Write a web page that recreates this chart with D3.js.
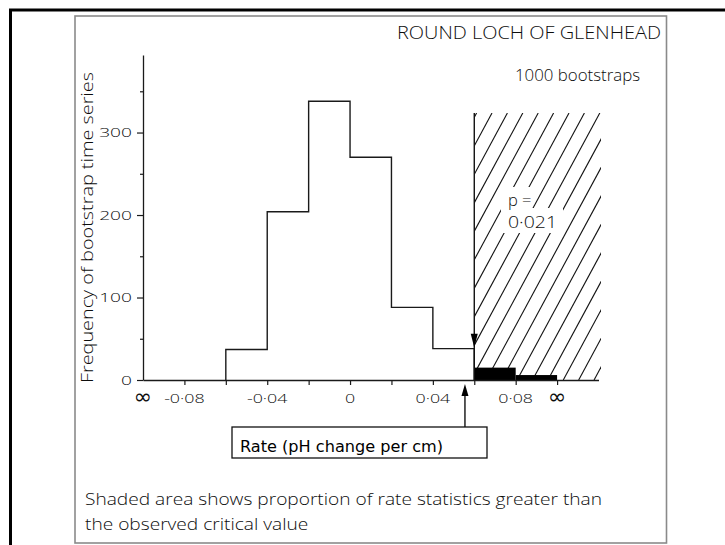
<!DOCTYPE html>
<html>
<head>
<meta charset="utf-8">
<script src="https://cdn.jsdelivr.net/npm/d3@7"></script>
<style>
  html, body { margin: 0; padding: 0; background: #fff; }
  svg { display: block; }
  text { font-weight: 300; fill: #0d0d0d; }
</style>
</head>
<body>
<svg id="chart" width="725" height="545"></svg>
<script>
// Bootstrap distribution of the rate statistic (pH change per cm), Round Loch of Glenhead
const binStarts = [-0.06, -0.04, -0.02, 0.00, 0.02, 0.04];
const binCounts = [37, 204, 338, 270, 88, 38];
const tailStarts = [0.06, 0.08];
const tailCounts = [15, 6];
const binWidth = 0.02;
const criticalValue = 0.06;
const observedRate = 0.0555;

const yTicks = [0, 100, 200, 300];
const yMinorTicks = [50, 150, 250, 350];
const xTicks = [-0.08, -0.06, -0.04, -0.02, 0, 0.02, 0.04, 0.06, 0.08, 0.10];
const xLabelValues = [-0.10, -0.08, -0.04, 0, 0.04, 0.08, 0.10];
const xLabelTexts = ["∞", "-0·08", "-0·04", "0", "0·04", "0·08", "∞"];

const titleText = "ROUND LOCH OF GLENHEAD";
const nText = "1000 bootstraps";
const pLabel = "p =";
const pValue = "0·021";
const yTitle = "Frequency of bootstrap time series";
const xTitle = "Rate (pH change per cm)";
const captionLines = [
  "Shaded area shows proportion of rate statistics greater than",
  "the observed critical value"
];

const SANS = "\"Open Sans\", \"DejaVu Sans\", sans-serif";
const svg = d3.select("#chart").style("font-family", SANS);

// scales
const x = d3.scaleLinear().domain([-0.10, 0.12]).range([143, 598.5]);
const y = d3.scaleLinear().domain([0, 394]).range([380, 55]);

// helpers: stretch/squeeze a text element to a given width
function fitWidth(sel, w) {
  sel.attr("textLength", w).attr("lengthAdjust", "spacingAndGlyphs");
}
function widen(sel, f) {
  sel.each(function () {
    const w = this.getComputedTextLength();
    this.setAttribute("textLength", w * f);
    this.setAttribute("lengthAdjust", "spacingAndGlyphs");
  });
}

// frames
svg.append("path")
  .attr("d", "M10.5,545 V10 H725")
  .attr("fill", "none").attr("stroke", "#000").attr("stroke-width", 3);
svg.append("rect")
  .attr("x", 75).attr("y", 16).attr("width", 591.5).attr("height", 527)
  .attr("fill", "none").attr("stroke", "#8a8a8a").attr("stroke-width", 1.6);

// hatched critical region
const shadeTop = 113;
const shadeRight = x(0.1212);
const clip = svg.append("clipPath").attr("id", "shadeClip");
clip.append("rect")
  .attr("x", x(criticalValue)).attr("y", shadeTop)
  .attr("width", shadeRight - x(criticalValue)).attr("height", y(0) - shadeTop);
const hatch = svg.append("g").attr("clip-path", "url(#shadeClip)");
const slope = 1.85, spacing = 15.4, H = y(0) - shadeTop;
const hatchX = d3.range(-4, 20).map(k => 492 + k * spacing);
hatch.selectAll("line").data(hatchX).join("line")
  .attr("x1", d => d).attr("y1", shadeTop)
  .attr("x2", d => d - H / slope).attr("y2", y(0))
  .attr("stroke", "#111").attr("stroke-width", 1.1);

// clear space behind the p-value
svg.append("rect").attr("x", 501).attr("y", 187).attr("width", 30).attr("height", 24).attr("fill", "#fff");
svg.append("rect").attr("x", 501).attr("y", 208).attr("width", 62).attr("height", 25).attr("fill", "#fff");

// histogram outline (step)
const pts = [[x(binStarts[0]), y(0)]];
binStarts.forEach((s, i) => {
  pts.push([x(s), y(binCounts[i])]);
  pts.push([x(s + binWidth), y(binCounts[i])]);
});
pts.push([x(binStarts[binStarts.length - 1] + binWidth), y(0)]);
svg.append("path")
  .attr("d", d3.line()(pts))
  .attr("fill", "none").attr("stroke", "#1a1a1a").attr("stroke-width", 1.4);

// tail bins beyond the critical value
svg.selectAll("rect.tail").data(tailStarts).join("rect")
  .attr("class", "tail")
  .attr("x", d => x(d)).attr("width", x(binWidth) - x(0))
  .attr("y", (d, i) => y(tailCounts[i]))
  .attr("height", (d, i) => y(0) - y(tailCounts[i]))
  .attr("fill", "#000");

// critical value marker
svg.append("line")
  .attr("x1", x(criticalValue)).attr("x2", x(criticalValue))
  .attr("y1", shadeTop).attr("y2", y(0))
  .attr("stroke", "#111").attr("stroke-width", 1.4);
const critTip = y(binCounts[binCounts.length - 1]) - 1;
svg.append("path")
  .attr("d", `M${x(criticalValue)},${critTip} l-3.5,-14 h7 z`)
  .attr("fill", "#000");

// y axis
const yAxis = svg.append("g").attr("transform", `translate(${x(-0.10)},0)`)
  .call(d3.axisLeft(y).tickValues(yTicks).tickSize(6).tickSizeOuter(0).tickPadding(5).tickFormat(d3.format("d")));
yAxis.attr("font-family", null).attr("font-size", null);
yAxis.select(".domain").attr("stroke", "#1a1a1a").attr("stroke-width", 1.3);
yAxis.selectAll(".tick line").attr("stroke", "#1a1a1a").attr("stroke-width", 1.2);
yAxis.selectAll(".tick text").style("font-size", "13.5px").style("font-family", SANS).attr("fill", "#0d0d0d");
widen(yAxis.selectAll(".tick text"), 1.42);
const yMinor = svg.append("g").attr("transform", `translate(${x(-0.10)},0)`)
  .call(d3.axisLeft(y).tickValues(yMinorTicks).tickSize(3).tickFormat(""));
yMinor.select(".domain").remove();
yMinor.selectAll(".tick line").attr("stroke", "#1a1a1a").attr("stroke-width", 1.2);

// x axis
const xAxis = svg.append("g").attr("transform", `translate(0,${y(0)})`)
  .call(d3.axisBottom(x).tickValues(xTicks).tickSize(5).tickSizeOuter(0).tickFormat(""));
xAxis.select(".domain").attr("stroke", "#1a1a1a").attr("stroke-width", 1.4);
xAxis.selectAll(".tick line").attr("stroke", "#1a1a1a").attr("stroke-width", 1.2);

const isInf = (d, i) => xLabelTexts[i] === "∞";
const xl = svg.append("g");
xl.selectAll("text").data(xLabelValues).join("text")
  .attr("x", d => x(d))
  .attr("y", (d, i) => isInf(d, i) ? y(0) + 24 : y(0) + 23)
  .attr("text-anchor", "middle")
  .style("font-size", (d, i) => isInf(d, i) ? "22px" : "13.5px")
  .style("font-family", (d, i) => isInf(d, i) ? "\"DejaVu Sans\", sans-serif" : SANS)
  .style("font-weight", (d, i) => isInf(d, i) ? 400 : 300)
  .text((d, i) => xLabelTexts[i]);
widen(xl.selectAll("text").filter((d, i) => !isInf(d, i)), 1.32);

// observed rate arrow and axis title box
const ax = x(observedRate);
svg.append("line")
  .attr("x1", ax).attr("x2", ax).attr("y1", 427).attr("y2", y(0) + 12)
  .attr("stroke", "#111").attr("stroke-width", 1.4);
svg.append("path")
  .attr("d", `M${ax},${y(0) + 4} l-3.5,12 h7 z`).attr("fill", "#000");
svg.append("rect")
  .attr("x", 232).attr("y", 427).attr("width", 255).attr("height", 31)
  .attr("fill", "#fff").attr("stroke", "#111").attr("stroke-width", 1.3);
svg.append("text")
  .attr("x", 240).attr("y", 451.5)
  .style("font-family", "\"DejaVu Sans\", Verdana, sans-serif").style("font-weight", 400)
  .style("font-size", "16px").style("fill", "#000")
  .text(xTitle).call(fitWidth, 203);

// y axis title
svg.append("text")
  .attr("transform", "translate(92.5,227.5) rotate(-90)")
  .attr("text-anchor", "middle").style("font-size", "15.5px")
  .text(yTitle).call(fitWidth, 311);

// header texts
svg.append("text")
  .attr("x", 661).attr("y", 38.5).attr("text-anchor", "end").style("font-size", "18px")
  .text(titleText).call(fitWidth, 264);
svg.append("text")
  .attr("x", 515).attr("y", 81).style("font-size", "16.5px")
  .text(nText).call(fitWidth, 125);

// p-value inside the shaded region
svg.append("text").attr("x", 508).attr("y", 206).style("font-size", "16.5px").text(pLabel);
svg.append("text").attr("x", 508).attr("y", 227.5).style("font-size", "16.5px")
  .text(pValue).call(fitWidth, 49);

// caption
const cap = svg.append("g");
const c1 = cap.append("text").attr("x", 85).attr("y", 505).style("font-size", "16px").text(captionLines[0]);
const nat1 = c1.node().getComputedTextLength();
const factor = 517 / nat1;
c1.call(fitWidth, 517);
const c2 = cap.append("text").attr("x", 85).attr("y", 530).style("font-size", "16px").text(captionLines[1]);
c2.call(fitWidth, c2.node().getComputedTextLength() * factor);
</script>
</body>
</html>
